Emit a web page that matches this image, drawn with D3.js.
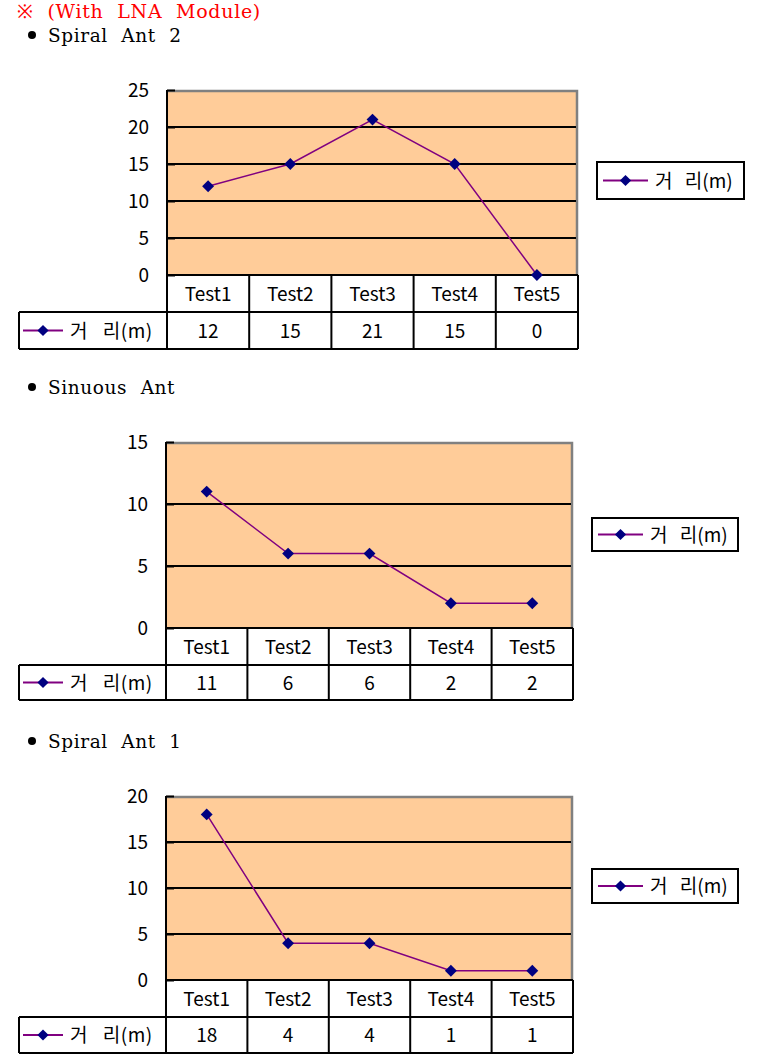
<!DOCTYPE html>
<html><head><meta charset="utf-8">
<script src="https://cdn.jsdelivr.net/npm/d3@7/dist/d3.min.js"></script>
<style>
body{margin:0;background:#fff;}
svg{display:block;}
</style></head>
<body>
<svg id="c" width="760" height="1057"></svg>
<script>
const categories = ["Test1","Test2","Test3","Test4","Test5"];
const seriesName = "거 리(m)";
const spiral2Values = [12,15,21,15,0];
const sinuousValues = [11,6,6,2,2];
const spiral1Values = [18,4,4,1,1];
const spiral2Ticks = [0,5,10,15,20,25];
const sinuousTicks = [0,5,10,15];
const spiral1Ticks = [0,5,10,15,20];
const mainTitle = "※ (With LNA Module)";
const chartTitles = ["Spiral Ant 2","Sinuous Ant","Spiral Ant 1"];

const svg = d3.select("#c");
const sansFont = "'Noto Sans CJK KR','Noto Sans',sans-serif";
const serifFont = "'DejaVu Serif',serif";
const FS = 19;

svg.append("text").attr("x",17).attr("y",18).attr("fill","#ff0000")
  .attr("font-family",serifFont).attr("font-size",19)
  .style("word-spacing","7px").style("letter-spacing","0.7px").text(mainTitle);

const charts = [
  {title:chartTitles[0], values:spiral2Values, ticks:spiral2Ticks, titleY:42,
   x0:167,x1:578,yTop:90,yZero:275,row1:312,row2:349, leg:{x:597,y:162,w:147,h:37}},
  {title:chartTitles[1], values:sinuousValues, ticks:sinuousTicks, titleY:394,
   x0:166,x1:573,yTop:442,yZero:628,row1:665,row2:700, leg:{x:592,y:518,w:146,h:33}},
  {title:chartTitles[2], values:spiral1Values, ticks:spiral1Ticks, titleY:748,
   x0:166,x1:573,yTop:796,yZero:980,row1:1017,row2:1053, leg:{x:592,y:869,w:146,h:34}}
];

function legendSymbol(g, x, y, len){
  g.append("line").attr("x1",x).attr("x2",x+len).attr("y1",y).attr("y2",y)
    .attr("stroke","#800080").attr("stroke-width",2);
  g.append("path").attr("d",d3.symbol(d3.symbolDiamond2, 80)())
    .attr("transform",`translate(${x+len/2},${y})`).attr("fill","#000080");
}

charts.forEach(c=>{
  const g = svg.append("g");
  g.append("circle").attr("cx",32).attr("cy",c.titleY-7).attr("r",4).attr("fill","#000");
  g.append("text").attr("x",48).attr("y",c.titleY).attr("font-family",serifFont)
    .attr("font-size",18.5).style("word-spacing","7px").style("letter-spacing","0.6px").text(c.title);

  const x = d3.scaleBand().domain(categories).range([c.x0,c.x1]);
  const y = d3.scaleLinear().domain([0,d3.max(c.ticks)]).range([c.yZero,c.yTop]);

  g.append("rect").attr("x",c.x0).attr("y",c.yTop).attr("width",c.x1-c.x0)
    .attr("height",c.yZero-c.yTop).attr("fill","#FFCC99");
  g.append("path").attr("d",`M${c.x0},${c.yTop+1}H${c.x1-1}V${c.yZero}`)
    .attr("fill","none").attr("stroke","#808080").attr("stroke-width",2.5);
  g.selectAll(".grid").data(c.ticks.filter(t=>t>0 && t<d3.max(c.ticks))).join("line")
    .attr("x1",c.x0).attr("x2",c.x1-2).attr("y1",d=>y(d)).attr("y2",d=>y(d))
    .attr("stroke","#000").attr("stroke-width",2);

  const ax = d3.axisLeft(y).tickValues(c.ticks).tickSize(-8).tickPadding(18).tickFormat(d3.format("d"));
  const ag = g.append("g").attr("transform",`translate(${c.x0},0)`).call(ax);
  ag.select(".domain").remove();
  ag.selectAll(".tick line").attr("stroke","#000").attr("stroke-width",2);
  ag.selectAll(".tick text").attr("font-family",sansFont).attr("font-size",FS).attr("fill","#000");

  const tb = g.append("g");
  const L = 19;
  const lw = 2;
  tb.append("line").attr("x1",c.x0).attr("x2",c.x1).attr("y1",c.yZero).attr("y2",c.yZero).attr("stroke","#000").attr("stroke-width",lw);
  tb.append("line").attr("x1",L).attr("x2",c.x1).attr("y1",c.row1).attr("y2",c.row1).attr("stroke","#000").attr("stroke-width",lw);
  tb.append("line").attr("x1",L).attr("x2",c.x1).attr("y1",c.row2).attr("y2",c.row2).attr("stroke","#000").attr("stroke-width",lw);
  tb.append("line").attr("x1",L).attr("x2",L).attr("y1",c.row1).attr("y2",c.row2).attr("stroke","#000").attr("stroke-width",lw);
  tb.append("line").attr("x1",c.x0).attr("x2",c.x0).attr("y1",c.yTop).attr("y2",c.row2).attr("stroke","#000").attr("stroke-width",lw);
  tb.selectAll(".vl").data(categories).join("line")
    .attr("x1",d=>x(d)+x.bandwidth()).attr("x2",d=>x(d)+x.bandwidth())
    .attr("y1",c.yZero).attr("y2",c.row2).attr("stroke","#000").attr("stroke-width",lw);

  tb.selectAll(".cat").data(categories).join("text")
    .attr("x",d=>x(d)+x.bandwidth()/2).attr("y",(c.yZero+c.row1)/2+7)
    .attr("text-anchor","middle").attr("font-family",sansFont).attr("font-size",FS).text(d=>d);
  tb.selectAll(".val").data(c.values).join("text")
    .attr("x",(d,i)=>x(categories[i])+x.bandwidth()/2).attr("y",(c.row1+c.row2)/2+7)
    .attr("text-anchor","middle").attr("font-family",sansFont).attr("font-size",FS).text(d=>d);
  legendSymbol(tb, 23, (c.row1+c.row2)/2, 40);
  tb.append("text").attr("x",70).attr("y",(c.row1+c.row2)/2+7)
    .attr("font-family",sansFont).attr("font-size",FS).style("word-spacing","10px")
    .style("letter-spacing","0.5px").text(seriesName);

  const line = d3.line().x((d,i)=>x(categories[i])+x.bandwidth()/2).y(d=>y(d));
  g.append("path").datum(c.values).attr("d",line).attr("fill","none")
    .attr("stroke","#800080").attr("stroke-width",1.5);
  g.selectAll(".pt").data(c.values).join("path")
    .attr("d",d3.symbol(d3.symbolDiamond2, 90)())
    .attr("transform",(d,i)=>`translate(${x(categories[i])+x.bandwidth()/2},${y(d)})`)
    .attr("fill","#000080");

  const lg = g.append("g");
  lg.append("rect").attr("x",c.leg.x).attr("y",c.leg.y).attr("width",c.leg.w).attr("height",c.leg.h)
    .attr("fill","#fff").attr("stroke","#000").attr("stroke-width",2);
  legendSymbol(lg, c.leg.x+6, c.leg.y+c.leg.h/2, 45);
  lg.append("text").attr("x",c.leg.x+58).attr("y",c.leg.y+c.leg.h/2+7)
    .attr("font-family",sansFont).attr("font-size",FS).style("word-spacing","8px").text(seriesName);
});
</script>
</body></html>
